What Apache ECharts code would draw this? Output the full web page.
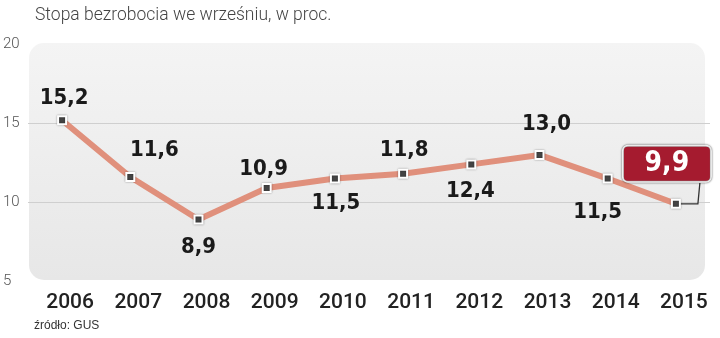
<!DOCTYPE html>
<html><head><meta charset="utf-8">
<script src="https://cdn.jsdelivr.net/npm/echarts@6/dist/echarts.min.js"></script>
<style>html,body{margin:0;padding:0;background:#fff}#c{width:720px;height:338px}</style>
</head><body><div id="c"></div>
<script>
const years = ['2006','2007','2008','2009','2010','2011','2012','2013','2014','2015'];
const rates = [15.2, 11.6, 8.9, 10.9, 11.5, 11.8, 12.4, 13.0, 11.5, 9.9];
const yTicks = [5, 10, 15, 20];
const titleText = 'Stopa bezrobocia we wrześniu, w proc.';
const sourceText = 'źródło: GUS';

// label offsets (style only)
const labelOffsets = [[2,-22],[24,-27],[0,28],[-3,-19],[1,25],[1,-24],[-1,27],[7,-31],[-10,34],[-9,-40]];
const labelFont = '"DejaVu Sans Condensed", sans-serif';

const chart = echarts.init(document.getElementById('c'), null, {renderer:'canvas'});
const last = rates.length - 1;
const data = rates.map((v, i) => {
  const item = {value: v, label: {offset: labelOffsets[i]}};
  if (i === last) {
    item.label = {
      offset: labelOffsets[i],
      color: '#fff', fontSize: 28, fontWeight: 'bold', fontFamily: labelFont,
      backgroundColor: '#a51b2f', borderColor: '#fff', borderWidth: 2, borderRadius: 4,
      width: 86, height: 34, lineHeight: 34, align: 'center',
      shadowColor: 'rgba(0,0,0,0.75)', shadowBlur: 2, shadowOffsetX: 0, shadowOffsetY: 0
    };
  }
  return item;
});

chart.setOption({
  animation: false,
  grid: {left: 26, right: 10, top: 44.6, bottom: 57},
  title: [
    {text: titleText, left: 30, top: 2, textStyle: {fontFamily: 'Roboto', fontWeight: 300, fontSize: 17.5, color: '#444'}},
    {text: sourceText, left: 29, top: 315, textStyle: {fontFamily: 'Liberation Sans', fontWeight: 'normal', fontSize: 12, color: '#333'}}
  ],
  graphic: [{
    type: 'rect', z: -10, silent: true,
    shape: {x: 29, y: 43, width: 676, height: 237, r: 15},
    style: {fill: new echarts.graphic.LinearGradient(0,0,0,1,[{offset:0,color:'#f4f4f4'},{offset:1,color:'#e7e7e7'}])}
  }],
  xAxis: {
    type: 'category', data: years, boundaryGap: true,
    axisLine: {show: false}, axisTick: {show: false}, splitLine: {show: false},
    axisLabel: {fontFamily: 'Roboto', fontWeight: 500, fontSize: 21, color: '#222', margin: 11, padding: [0,0,0,16]}
  },
  yAxis: {
    type: 'value', min: yTicks[0], max: yTicks[yTicks.length-1], interval: 5,
    axisLine: {show: false}, axisTick: {show: false},
    axisLabel: {fontFamily: 'Roboto', fontWeight: 300, fontSize: 15, color: '#555', align: 'left', margin: 25},
    splitLine: {show: true, lineStyle: {color: ['transparent', '#cfcfcf', '#cfcfcf', 'transparent'], width: 1}}
  },
  series: [{
    type: 'line', data: data,
    lineStyle: {color: '#e0907c', width: 6},
    symbol: 'rect', symbolSize: 8,
    itemStyle: {color: '#444', borderColor: '#fff', borderWidth: 2, shadowColor: 'rgba(0,0,0,0.35)', shadowBlur: 2},
    label: {
      show: true, position: 'inside', align: 'center', verticalAlign: 'middle',
      fontFamily: labelFont, fontWeight: 'bold', fontSize: 22, color: '#1a1a1a',
      formatter: p => String(p.value.toFixed(1)).replace('.', ',')
    },
    z: 5
  }]
});

// connector from box to last point
const pt = chart.convertToPixel({seriesIndex: 0}, [last, rates[last]]);
const bx = pt[0] + labelOffsets[last][0] + 33;
const by = pt[1] + labelOffsets[last][1] + 19;
chart.setOption({graphic: [{}, {
  type: 'polyline', z: 4, silent: true,
  shape: {points: [[bx, by], [bx - 2, pt[1]], [pt[0] + 4, pt[1]]]},
  style: {stroke: '#333', lineWidth: 1.3, fill: null}
}]});
</script>
</body></html>
